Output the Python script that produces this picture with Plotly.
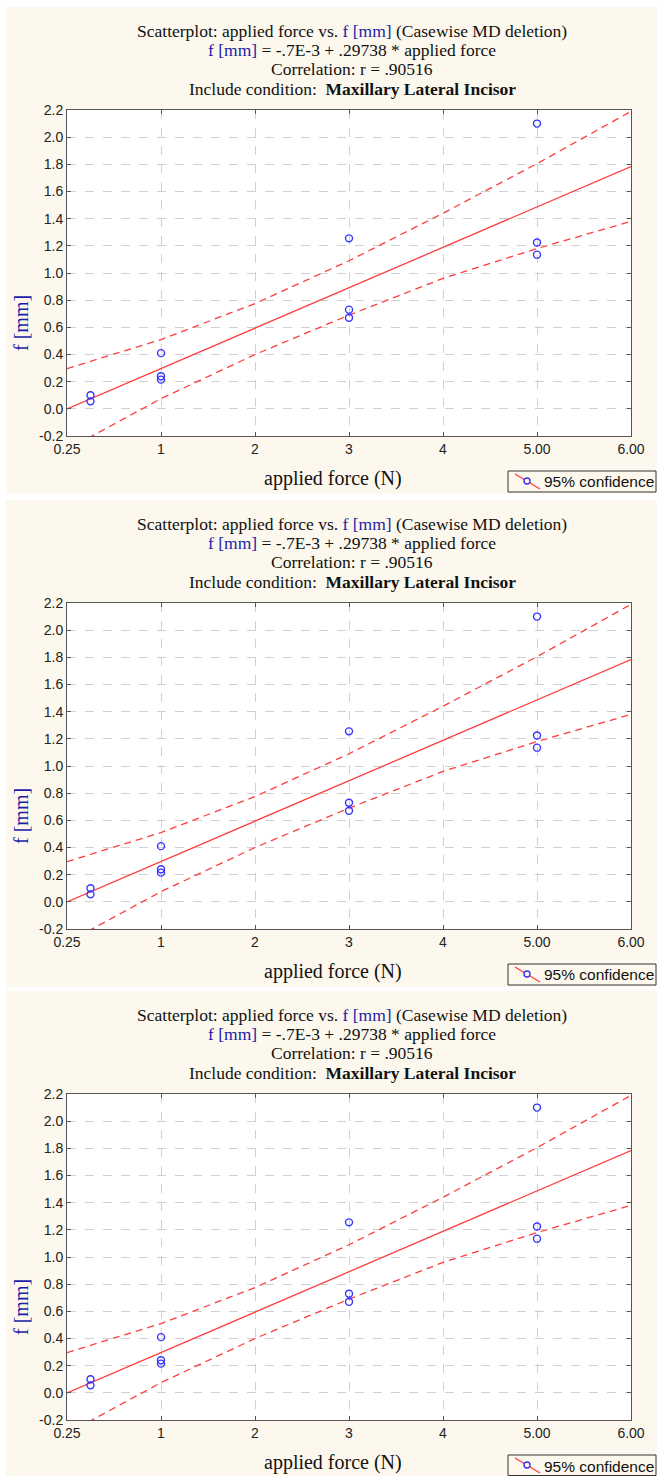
import plotly.graph_objects as go

# ---------------- data ----------------
force = [0.25, 0.25, 1, 1, 1, 3, 3, 3, 5, 5, 5]
f_mm = [0.100, 0.055, 0.410, 0.240, 0.215, 1.255, 0.730, 0.670, 2.100, 1.225, 1.135]

fit_x = [0, 6]
fit_y = [-0.0007, 1.7836]

band_x = [0, 1, 2, 3, 4, 5, 6]
band_upper = [0.296, 0.510, 0.775, 1.090, 1.440, 1.805, 2.190]
band_lower = [-0.300, 0.075, 0.400, 0.690, 0.960, 1.180, 1.380]

x_tickvals = [0, 1, 2, 3, 4, 5, 6]
x_ticktext = ["0.25", "1", "2", "3", "4", "5.00", "6.00"]
y_tickvals = [-0.2, 0.0, 0.2, 0.4, 0.6, 0.8, 1.0, 1.2, 1.4, 1.6, 1.8, 2.0, 2.2]
y_ticktext = ["-0.2", "0.0", "0.2", "0.4", "0.6", "0.8", "1.0", "1.2", "1.4", "1.6", "1.8", "2.0", "2.2"]

BLUE_TXT = "#1c1ca8"
title_lines = [
    "Scatterplot: applied force vs. <span style='color:%s'>f [mm]</span> (Casewise MD deletion)" % BLUE_TXT,
    "<span style='color:%s'>f [mm]</span> = -.7E-3 + .29738 * applied force" % BLUE_TXT,
    "Correlation: r = .90516",
    "Include condition:  <b>Maxillary Lateral Incisor</b>",
]
x_title = "applied force (N)"
y_title = "f [mm]"
legend_label = "95% confidence"

# ---------------- geometry ----------------
W, H = 657, 1476
def px(x):
    return x / W
def py(y):
    return 1 - y / H

offsets = [0, 493, 984]
PLOT_L, PLOT_R = 67, 631
PLOT_T, PLOT_B = 110, 436
CREAM = "#fdf8ed"
SERIF = "Liberation Serif"
SANS = "Liberation Sans"
RED = "#ff3c3c"

fig = go.Figure()
layout = dict(
    width=W, height=H, autosize=False,
    margin=dict(l=0, r=0, t=0, b=0, autoexpand=False),
    paper_bgcolor="white", plot_bgcolor="rgba(0,0,0,0)",
    showlegend=False,
    shapes=[], annotations=[],
)

for i, off in enumerate(offsets):
    sfx = "" if i == 0 else str(i + 1)
    xref, yref = "x" + sfx, "y" + sfx

    # traces
    fig.add_trace(go.Scatter(x=band_x, y=band_upper, mode="lines", xaxis=xref, yaxis=yref,
                             line=dict(color=RED, width=1.3, dash="7px,5px"), hoverinfo="skip"))
    fig.add_trace(go.Scatter(x=band_x, y=band_lower, mode="lines", xaxis=xref, yaxis=yref,
                             line=dict(color=RED, width=1.3, dash="7px,5px"), hoverinfo="skip"))
    fig.add_trace(go.Scatter(x=fit_x, y=fit_y, mode="lines", xaxis=xref, yaxis=yref,
                             line=dict(color=RED, width=1.3)))
    fig.add_trace(go.Scatter(x=force, y=f_mm, mode="markers", xaxis=xref, yaxis=yref,
                             marker=dict(symbol="circle-open", size=7, color="#3535ff",
                                         line=dict(width=1.4)), cliponaxis=False))

    axis_common = dict(
        showline=True, linecolor="#555555", linewidth=1, mirror="ticks",
        ticks="inside", ticklen=4, tickcolor="#555555",
        showgrid=True, gridcolor="#d0d0d0", griddash="dash", gridwidth=1,
        zeroline=False, tickfont=dict(family=SANS, size=14, color="#222222"),
        fixedrange=True, automargin=False,
    )
    layout["xaxis" + sfx] = dict(
        axis_common, domain=[px(PLOT_L), px(PLOT_R)], range=[0, 6],
        tickmode="array", tickvals=x_tickvals, ticktext=x_ticktext,
        anchor=yref,
    )
    layout["yaxis" + sfx] = dict(
        axis_common, domain=[py(PLOT_B + off), py(PLOT_T + off)], range=[-0.2, 2.2],
        tickmode="array", tickvals=y_tickvals, ticktext=y_ticktext,
        anchor=xref,
    )

    # backgrounds
    bg_top = 7 + off
    bg_bot = min(494 + off, H)
    layout["shapes"].append(dict(type="rect", xref="paper", yref="paper", layer="below",
                                 x0=px(6), x1=px(W), y0=py(bg_bot), y1=py(bg_top),
                                 fillcolor=CREAM, line=dict(width=0)))
    layout["shapes"].append(dict(type="rect", xref="paper", yref="paper", layer="below",
                                 x0=px(PLOT_L), x1=px(PLOT_R), y0=py(PLOT_B + off), y1=py(PLOT_T + off),
                                 fillcolor="white", line=dict(width=0)))

    # titles
    for k, (line, ypos) in enumerate(zip(title_lines, [31, 50, 69, 89])):
        layout["annotations"].append(dict(
            text=line, xref="paper", yref="paper", x=px(352), y=py(ypos + off),
            xanchor="center", yanchor="middle", showarrow=False,
            font=dict(family=SERIF, size=17.5, color="#111111")))

    # axis titles
    layout["annotations"].append(dict(
        text=x_title, xref="paper", yref="paper", x=px(333), y=py(478 + off),
        xanchor="center", yanchor="middle", showarrow=False,
        font=dict(family=SERIF, size=20, color="#111111")))
    layout["annotations"].append(dict(
        text=y_title, xref="paper", yref="paper", x=px(21), y=py(323 + off),
        xanchor="center", yanchor="middle", showarrow=False, textangle=-90,
        font=dict(family=SERIF, size=20, color=BLUE_TXT)))

    # legend box
    lt, lb = 471 + off, 492 + off
    layout["shapes"].append(dict(type="rect", xref="paper", yref="paper", layer="above",
                                 x0=px(508), x1=px(656), y0=py(min(lb, H - 0.5)), y1=py(lt),
                                 fillcolor=CREAM, line=dict(color="#333333", width=1)))
    layout["shapes"].append(dict(type="line", xref="paper", yref="paper", layer="above",
                                 x0=px(515), x1=px(540), y0=py(lt + 3), y1=py(lt + 18),
                                 line=dict(color=RED, width=1.3)))
    layout["shapes"].append(dict(type="circle", xref="paper", yref="paper", layer="above",
                                 x0=px(524), x1=px(530), y0=py(lt + 13), y1=py(lt + 7),
                                 fillcolor=CREAM, line=dict(color="#3535ff", width=1.4)))
    layout["annotations"].append(dict(
        text=legend_label, xref="paper", yref="paper", x=px(542), y=py(lt + 11),
        xanchor="left", yanchor="middle", showarrow=False,
        font=dict(family=SANS, size=15.5, color="#111111")))

fig.update_layout(**layout)
fig.write_html("out.html", config={"displayModeBar": False},
               post_script="document.body.style.margin='0';")
